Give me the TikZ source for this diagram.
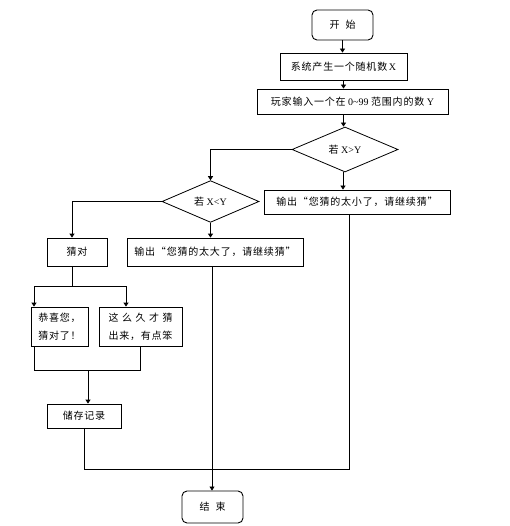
\documentclass[tikz,border=0pt]{standalone}
\usepackage{fontspec}
\setmainfont{Liberation Serif}
\newfontfamily\cjk[LetterSpace=8]{Noto Sans CJK SC}
\usetikzlibrary{shapes.geometric,arrows.meta}

\begin{document}
\begin{tikzpicture}[x=1pt,y=-1pt,
  font=\fontsize{10}{12}\selectfont,
  every node/.style={inner sep=0pt},
  box/.style={draw,line width=0.8pt},
  term/.style={draw,rounded corners=5pt,line width=0.9pt,minimum width=61pt},
  cond/.style={draw,diamond,line width=0.8pt},
  arr/.style={-{Triangle[length=4pt,width=5pt]},line width=0.8pt},
  line/.style={line width=0.8pt}]
\useasboundingbox (0,0) rectangle (509,526);
% nodes
\node[term,minimum height=30pt] (start) at (342.5,25) {\cjk 开\hspace{6pt}始};
\node[box,minimum width=127pt,minimum height=27pt] (gen) at (343.5,66.5) {{\cjk 系统产生一个随机数}\,X};
\node[box,minimum width=191pt,minimum height=25pt] (input) at (352.5,101.5) {{\cjk 玩家输入一个在}~0\textasciitilde99~{\cjk 范围内的数}~Y};
\node[cond,minimum width=106pt,minimum height=45pt] (big1) at (345,149.5) {{\cjk 若}~X>Y};
\node[box,minimum width=186pt,minimum height=24pt] (low) at (357,202) {\cjk 输出“您猜的太小了，请继续猜”};
\node[cond,minimum width=97pt,minimum height=37pt] (small1) at (210.5,201.5) {{\cjk 若}~X<Y};
\node[box,minimum width=60pt,minimum height=28pt] (right) at (77,252) {\cjk 猜对};
\node[box,minimum width=176pt,minimum height=28pt] (high) at (215,252) {\cjk 输出“您猜的太大了，请继续猜”};
\node[box,minimum width=57pt,minimum height=39pt,align=left] (cong) at (59.5,326.5) {\cjk 恭喜您，\\[6pt]\cjk 猜对了！};
\node[box,minimum width=83pt,minimum height=39pt,align=left] (slow) at (140.5,326.5) {\makebox[64pt][s]{\cjk 这\hfill 么\hfill 久\hfill 才\hfill 猜}\\[6pt]\cjk 出来，有点笨};
\node[box,minimum width=74pt,minimum height=24pt] (save) at (84,416) {\cjk 储存记录};
\node[term,minimum height=32pt] (end) at (212.5,507) {\cjk 结\hspace{6pt}束};
% connectors
\draw[arr] (start.south) -- (start.south |- gen.north);
\draw[arr] (gen.south) -- (gen.south |- input.north);
\draw[arr] (input.south -| gen.south) -- (gen.south |- big1.north);
\draw[arr] (big1.west) -| (small1.north);
\draw[arr] ([xshift=-2pt]big1.south) -- ([xshift=-2pt]big1.south |- low.north);
\draw[arr] (small1.west) -| ([xshift=-5pt]right.north);
\draw[arr] (small1.south) -- (small1.south |- high.north);
\draw[arr] ([xshift=-5pt]right.south) -- ++(0,20) -| ([xshift=-25.5pt]cong.north);
\draw[arr] ([xshift=-5pt]right.south) -- ++(0,20) -| ([xshift=-14.5pt]slow.north);
\draw[line] ([xshift=-25.5pt]cong.south) -- ++(0,24) coordinate (join) -| ([xshift=-0.5pt]slow.south);
\draw[arr] ([xshift=4pt]save.north |- join) -- ([xshift=4pt]save.north);
\draw[line] (save.south) -- ++(0,41) -| ([xshift=-8pt]low.south);
\draw[arr] ([xshift=-3pt]high.south) -- ([xshift=-3pt]high.south |- end.north);
\end{tikzpicture}
\end{document}
